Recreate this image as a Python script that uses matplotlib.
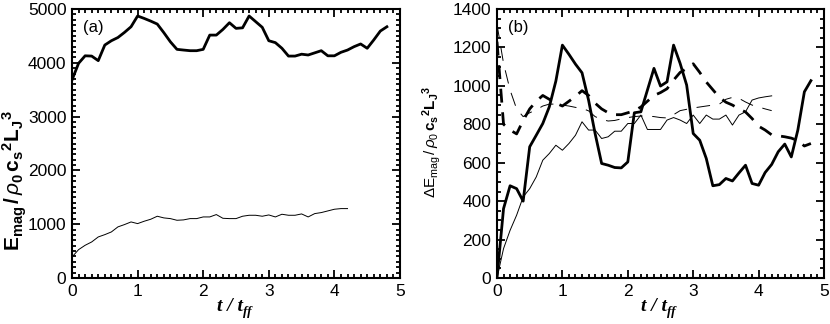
import numpy as np
import matplotlib
matplotlib.use("Agg")
import matplotlib.pyplot as plt
from matplotlib.ticker import MultipleLocator

plt.rcParams['font.family'] = ['Liberation Sans', 'DejaVu Sans']
plt.rcParams['mathtext.fontset'] = 'custom'
plt.rcParams['mathtext.rm'] = 'Liberation Sans'
plt.rcParams['mathtext.bf'] = 'Liberation Sans:bold'
plt.rcParams['mathtext.it'] = 'Liberation Sans:italic'

# ---- Panel (a) data ----
t_a_thick = [round(0.1 * i, 1) for i in range(49)]
e_a_thick = [3680, 3990, 4130, 4125, 4040, 4330, 4410, 4470, 4565, 4670,
             4870, 4825, 4775, 4720, 4560, 4390, 4250, 4237, 4225, 4225,
             4250, 4515, 4515, 4620, 4745, 4640, 4650, 4870, 4765, 4660,
             4410, 4375, 4270, 4125, 4125, 4160, 4145, 4185, 4225, 4130,
             4130, 4195, 4237, 4300, 4350, 4270, 4425, 4590, 4670]
t_a_thin = [round(0.1 * i, 1) for i in range(43)]
e_a_thin = [390, 527, 608, 670, 763, 806, 856, 950, 993, 1042,
            1011, 1055, 1092, 1148, 1117, 1104, 1073, 1080, 1104, 1104,
            1135, 1135, 1179, 1110, 1104, 1104, 1148, 1166, 1166, 1148,
            1172, 1135, 1185, 1166, 1166, 1191, 1135, 1197, 1216, 1247,
            1278, 1290, 1290]

# ---- Panel (b) data ----
t_b_thick = [round(0.1 * i, 1) for i in range(49)]
d_b_thick = [0, 361, 480, 465, 400, 683, 743, 804, 891, 1025,
             1212, 1164, 1113, 1068, 926, 752, 596, 587, 575, 573,
             604, 860, 865, 978, 1091, 999, 1021, 1212, 1117, 1004,
             752, 717, 622, 480, 486, 518, 505, 547, 587, 492,
             483, 549, 591, 657, 697, 630, 770, 969, 1027]
t_b_thin = [round(0.1 * i, 1) for i in range(43)]
d_b_thin = [0, 153, 248, 327, 422, 465, 526, 613, 648, 691,
            665, 700, 743, 813, 770, 770, 726, 735, 764, 764,
            804, 804, 848, 773, 773, 773, 822, 835, 822, 804,
            848, 804, 848, 827, 827, 848, 796, 848, 865, 926,
            937, 943, 948]
t_b_thickdash = [round(0.1 * i, 1) for i in range(49)]
d_b_thickdash = [1230, 800, 770, 750, 820, 880, 920, 950, 930, 910,
                 895, 920, 945, 975, 950, 910, 880, 860, 850, 850,
                 860, 870, 890, 920, 950, 965, 985, 1030, 1070, 1090,
                 1115, 1070, 1020, 980, 940, 915, 900, 880, 864, 830,
                 790, 770, 745, 740, 735, 728, 715, 687, 700]
t_b_thindash = [round(0.1 * i, 1) for i in range(43)]
d_b_thindash = [1320, 1117, 978, 880, 840, 860, 875, 895, 905, 905,
                900, 895, 888, 883, 870, 840, 825, 817, 820, 828,
                835, 840, 843, 843, 840, 835, 833, 850, 871, 878,
                885, 890, 895, 900, 905, 930, 940, 935, 916, 900,
                890, 880, 871]

xticks = [0, 1, 2, 3, 4, 5]
yticks_a = [0, 1000, 2000, 3000, 4000, 5000]
yticks_b = [0, 200, 400, 600, 800, 1000, 1200, 1400]

W, H = 830, 324
fig = plt.figure(figsize=(W / 100, H / 100), dpi=100)
ax1 = fig.add_axes([72/W, 46/H, 328/W, 269/H])
ax2 = fig.add_axes([497/W, 46/H, 327/W, 269/H])

THICK = 2.0
THIN = 0.7

ax1.plot(t_a_thick, e_a_thick, color='black', lw=THICK)
ax1.plot(t_a_thin, e_a_thin, color='black', lw=THIN)

ax2.plot(t_b_thick, d_b_thick, color='black', lw=THICK)
ax2.plot(t_b_thin, d_b_thin, color='black', lw=THIN)
ax2.plot(t_b_thickdash, d_b_thickdash, color='black', lw=THICK, dashes=(5, 3.5))
ax2.plot(t_b_thindash, d_b_thindash, color='black', lw=THIN, dashes=(14, 10))

ax1.set_xlim(0, 5)
ax1.set_ylim(0, 5000)
ax2.set_xlim(0, 5)
ax2.set_ylim(0, 1400)

for ax, yt, ymin in ((ax1, yticks_a, 100), (ax2, yticks_b, 50)):
    ax.set_xticks(xticks)
    ax.set_yticks(yt)
    ax.xaxis.set_minor_locator(MultipleLocator(0.1))
    ax.yaxis.set_minor_locator(MultipleLocator(ymin))
    ax.tick_params(which='both', direction='in', top=True, right=True,
                   labelsize=12.5, width=1.3, pad=4)
    ax.tick_params(which='major', length=6)
    ax.tick_params(which='minor', length=3)
    for s in ax.spines.values():
        s.set_linewidth(1.5)

# x-labels: bold italic serif "t / t_ff"
for xc in (236, 660):
    fig.text(xc / W + 0.008, 1 - 298 / H, 't / t', ha='right', va='top',
             fontsize=14, family='Liberation Serif', style='italic',
             weight='bold')
    fig.text(xc / W + 0.008, 1 - 306 / H, 'ff', ha='left', va='top',
             fontsize=9.5, family='Liberation Serif', style='italic',
             weight='bold')

fig.text(15 / W, 1 - 181 / H,
         r'$\mathbf{E}_{\mathbf{mag}}\,\mathbf{/}\,\rho_{\mathbf{0}}\,'
         r'\mathbf{c}_{\mathbf{s}}{}^{\mathbf{2}}\mathbf{L}_{\mathbf{J}}{}^{\mathbf{3}}$',
         fontsize=15, rotation=90, ha='center', va='center')
fig.text(432 / W, 1 - 142 / H,
         r'$\Delta\mathrm{E}_{\mathrm{mag}}\,/\,\rho_{0}\,'
         r'\mathbf{c}_{\mathbf{s}}{}^{\mathbf{2}}\mathbf{L}_{\mathbf{J}}{}^{\mathbf{3}}$',
         fontsize=11, rotation=90, ha='center', va='center')

ax1.text(0.034, 0.93, '(a)', transform=ax1.transAxes, ha='left',
         va='center', fontsize=12)
ax2.text(0.034, 0.93, '(b)', transform=ax2.transAxes, ha='left',
         va='center', fontsize=12)

fig.savefig('out.png', dpi=100)
